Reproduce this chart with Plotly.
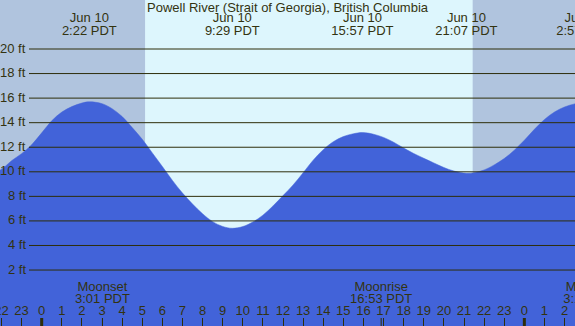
import plotly.graph_objects as go

# ---------------- data ----------------
title = "Powell River (Strait of Georgia), British Columbia"

# tide curve, hours relative to Jun 10 00:00 PDT, height in ft
tide_hours = [-3, -2.5, -2, -1.5, -1, -0.5, 0, 0.5, 1, 1.5, 2, 2.37, 3, 3.5, 4, 4.5, 5, 5.5,
              6, 6.5, 7, 7.5, 8, 8.5, 9, 9.48, 10, 10.5, 11, 11.5, 12, 12.5, 13, 13.5, 14,
              14.5, 15, 15.5, 15.95, 16.5, 17, 17.5, 18, 18.5, 19, 19.5, 20, 20.5, 21.12,
              21.5, 22, 22.5, 23, 23.5, 24, 24.5, 25, 25.5, 26, 26.5, 26.95, 27.5]
tide_ft = [9.6, 9.8, 10.2, 10.9, 11.48, 12.2, 13.17, 14.16, 14.86, 15.31, 15.6, 15.7, 15.55,
           15.14, 14.5, 13.6, 12.65, 11.54, 10.43, 9.3, 8.27, 7.38, 6.58, 5.94, 5.55, 5.4,
           5.54, 5.91, 6.47, 7.22, 8.06, 8.93, 9.92, 10.95, 11.8, 12.45, 12.87, 13.1, 13.2,
           13.06, 12.8, 12.41, 11.93, 11.49, 11.1, 10.72, 10.35, 10.06, 9.88, 9.93, 10.15,
           10.56, 11.08, 11.76, 12.57, 13.46, 14.26, 14.87, 15.28, 15.53, 15.65, 15.55]

# high / low tide events
event_hours = [2.37, 9.48, 15.95, 21.12, 26.95]
event_dates = ["Jun 10", "Jun 10", "Jun 10", "Jun 10", "Jun 11"]
event_times = ["2:22 PDT", "9:29 PDT", "15:57 PDT", "21:07 PDT", "2:57 PDT"]

# moon events
moon_hours = [3.02, 16.88, 27.3]
moon_names = ["Moonset", "Moonrise", "Moonset"]
moon_times = ["3:01 PDT", "16:53 PDT", "3:18 PDT"]

# sun (day shading)
sunrise_h = 5.14
sunset_h = 21.43

# hour ticks
hour_ticks = list(range(-2, 28))
hour_labels = ["22", "23"] + [str(h) for h in range(24)] + ["0", "1", "2", "3"]
midnights = [0, 24]

y_levels = [2, 4, 6, 8, 10, 12, 14, 16, 18, 20]

# ---------------- style / geometry ----------------
W, H = 575, 326
X0PX, PXH = 41.7, 20.11      # pixel of midnight, pixels per hour
Y0PX, PXFT = 294.6, 12.28    # pixel of 0 ft, pixels per ft
xr = [-X0PX / PXH, (W - X0PX) / PXH]
yr = [(Y0PX - H) / PXFT, Y0PX / PXFT]


def py(px):
    return (Y0PX - px) / PXFT


NIGHT = "#b0c4de"
DAY = "#ddf6fd"
WATER = "#4263d9"
GRID = "#2e2e0a"
TXT = "#333310"
FONT = "Liberation Sans, Arial, sans-serif"
FS = 13

fig = go.Figure()

# baseline for fill
fig.add_trace(go.Scatter(x=[tide_hours[0], tide_hours[-1]], y=[yr[0] - 5, yr[0] - 5],
                         mode="lines", line=dict(width=0, color=WATER),
                         hoverinfo="skip", showlegend=False))
fig.add_trace(go.Scatter(x=tide_hours, y=tide_ft, mode="lines",
                         line=dict(width=0.5, color=WATER, shape="spline", smoothing=1.0),
                         fill="tonexty", fillcolor=WATER,
                         hoverinfo="skip", showlegend=False))

# top event labels
fig.add_trace(go.Scatter(x=event_hours, y=[py(18.6)] * len(event_hours), text=event_dates,
                         mode="text", textposition="middle center",
                         textfont=dict(family=FONT, size=FS, color=TXT),
                         hoverinfo="skip", showlegend=False))
fig.add_trace(go.Scatter(x=event_hours, y=[py(31.4)] * len(event_hours), text=event_times,
                         mode="text", textposition="middle center",
                         textfont=dict(family=FONT, size=FS, color=TXT),
                         hoverinfo="skip", showlegend=False))

# moon labels
fig.add_trace(go.Scatter(x=moon_hours, y=[py(287.5)] * len(moon_hours), text=moon_names,
                         mode="text", textposition="middle center",
                         textfont=dict(family=FONT, size=FS, color=TXT),
                         hoverinfo="skip", showlegend=False))
fig.add_trace(go.Scatter(x=moon_hours, y=[py(299.4)] * len(moon_hours), text=moon_times,
                         mode="text", textposition="middle center",
                         textfont=dict(family=FONT, size=FS, color=TXT),
                         hoverinfo="skip", showlegend=False))

# hour labels
fig.add_trace(go.Scatter(x=hour_ticks, y=[py(312)] * len(hour_ticks), text=hour_labels,
                         mode="text", textposition="middle center",
                         textfont=dict(family=FONT, size=FS, color=TXT),
                         hoverinfo="skip", showlegend=False))

shapes = []
# day shading (night = plot background)
shapes.append(dict(type="rect", xref="x", yref="paper", x0=sunrise_h, x1=sunset_h,
                   y0=0, y1=1, fillcolor=DAY, line=dict(width=0), layer="below"))
# grid lines
for v in y_levels:
    shapes.append(dict(type="line", xref="paper", yref="y", x0=29 / W, x1=1, y0=v, y1=v,
                       line=dict(color=GRID, width=1), layer="above"))
# midnight ticks
for m in midnights:
    shapes.append(dict(type="line", xref="x", yref="paper", x0=m, x1=m, y0=0, y1=8 / H,
                       line=dict(color=GRID, width=3), layer="above"))
# moon ticks
for m in moon_hours:
    shapes.append(dict(type="line", xref="x", yref="paper", x0=m, x1=m, y0=0, y1=8 / H,
                       line=dict(color=GRID, width=1), layer="above"))

annotations = [dict(text=title, xref="paper", yref="paper", x=0.5, y=1 - 7.8 / H,
                    xanchor="center", yanchor="middle", showarrow=False,
                    font=dict(family=FONT, size=FS, color=TXT))]
for v in y_levels:
    annotations.append(dict(text=f"{v} ft", xref="paper", yref="y", x=27.5 / W, y=v,
                            xanchor="right", yanchor="middle", yshift=1, showarrow=False,
                            font=dict(family=FONT, size=FS, color=TXT)))

fig.update_layout(
    width=W, height=H,
    margin=dict(l=0, r=0, t=0, b=0, pad=0),
    paper_bgcolor=NIGHT, plot_bgcolor=NIGHT,
    shapes=shapes, annotations=annotations,
    showlegend=False, hovermode=False,
    xaxis=dict(range=xr, showgrid=False, zeroline=False, showline=False,
               tickvals=hour_ticks, ticks="inside", ticklen=8, tickwidth=1,
               tickcolor=GRID, showticklabels=False, fixedrange=True),
    yaxis=dict(range=yr, showgrid=False, zeroline=False, showline=False,
               showticklabels=False, ticks="", fixedrange=True),
)

fig.write_html("out.html", config={"displayModeBar": False, "staticPlot": True},
               post_script="document.body.style.margin='0';document.body.style.overflow='hidden';")
